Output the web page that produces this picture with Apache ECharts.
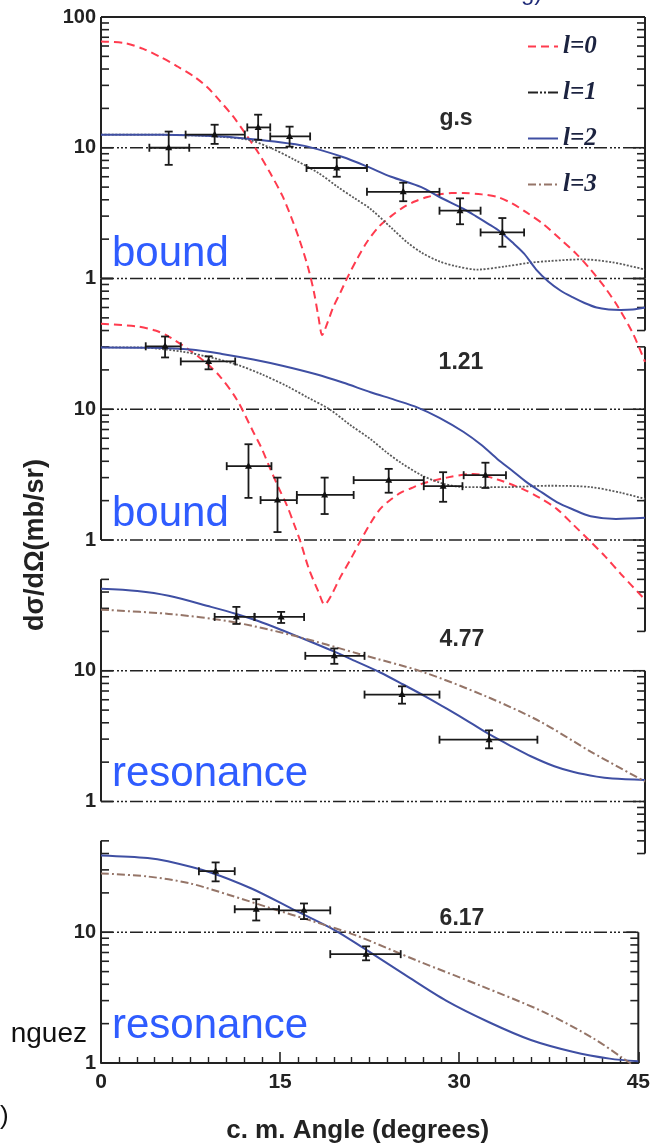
<!DOCTYPE html>
<html><head><meta charset="utf-8">
<script src="https://cdn.jsdelivr.net/npm/echarts@6/dist/echarts.min.js"></script>
<style>html,body{margin:0;padding:0;background:#fff}#c{width:653px;height:1148px}</style>
</head><body><div id="c"></div>
<script>
// ---------------- data ----------------
const angleTicks = [0, 15, 30, 45];
const yTickLabels = ['1', '10', '100'];
const tickMantissas = [1, 2, 3, 4, 5, 6, 7, 8, 9];
const seriesNames = ['l=0', 'l=1', 'l=2', 'l=3'];
const panelLabels = ['g.s', '1.21', '4.77', '6.17'];
const stateLabels = ['bound', 'bound', 'resonance', 'resonance'];

// panel 1: g.s  [angle, dsigma]
const gs_l0 = [[0,65],[2,63],[3.5,57],[4.9,49.5],[6.3,42],[7.7,35],[8.8,29],[9.8,23],[10.9,17.5],[11.9,13],[13,9.2],[14,6.4],[15,4.3],[15.7,3.0],[16.4,2.0],[17.1,1.24],[17.6,0.8],[18.0,0.5],[18.3,0.37],[18.7,0.45],[19.2,0.6],[19.8,0.78],[20.3,0.98],[21.2,1.42],[22,1.9],[23,2.5],[24,3.0],[25,3.5],[26,3.9],[27,4.2],[28,4.4],[29,4.5],[30,4.5],[31.5,4.4],[32.8,4.2],[34,3.75],[35.2,3.2],[36.6,2.6],[38,2.0],[39.3,1.55],[40.5,1.17],[41.7,0.85],[42.8,0.6],[44,0.38],[45,0.23]];
const gs_l1 = [[0,12.6],[4,12.6],[8,12.4],[10,12.1],[12.2,11.5],[14,10],[16,8.1],[18,6.4],[19.6,5.0],[21,4.1],[22.3,3.4],[24.1,2.4],[25.3,1.9],[26.5,1.58],[28,1.35],[29.4,1.24],[31.1,1.17],[33.5,1.24],[35.5,1.32],[37.1,1.36],[39.8,1.4],[42.3,1.33],[45,1.17]];
const gs_l2 = [[0,12.6],[5,12.6],[10,12.2],[13,11.5],[15.5,10.8],[17.1,10.2],[20,8.5],[22,7.2],[24,6.0],[26.5,5.0],[28,4.2],[30,3.4],[31,3.0],[32,2.63],[33,2.29],[34,1.9],[35,1.55],[36,1.17],[37,0.95],[38,0.81],[39,0.72],[40,0.65],[41,0.6],[42,0.58],[43,0.575],[44,0.58],[45,0.6]];
// [angle, value, angleLow, angleHigh, valueLow, valueHigh]
const gs_exp = [[5.6,10,4.0,7.3,7.4,13.3],[9.4,12.6,7.0,11.9,10.7,15],[13.0,14.3,12.1,14.0,11.5,17.9],[15.6,12.2,14.0,17.3,10.2,14.5],[19.5,7.0,17.0,22.0,6.0,8.4],[25.0,4.6,22.0,28.0,3.9,5.4],[29.7,3.3,28.0,31.4,2.6,4.1],[33.2,2.25,31.4,35.0,1.75,2.9]];

// panel 2: 1.21
const e121_l0 = [[0,45],[3,43],[4.5,40],[5.6,36],[7.4,28],[8.6,23],[9.8,18],[11.2,12],[12.6,6.7],[13.3,5],[14,3.5],[14.7,2.5],[15.4,1.82],[16,1.3],[16.5,0.97],[17.2,0.6],[18,0.4],[18.5,0.32],[19,0.37],[19.8,0.52],[20.6,0.7],[21.5,1.0],[22.3,1.35],[23.1,1.73],[24,2.05],[24.8,2.3],[25.7,2.5],[26.6,2.7],[28.6,3.0],[30.8,3.2],[32.8,2.9],[34.9,2.45],[36.3,2.1],[37.7,1.73],[39.1,1.3],[40.5,0.97],[41.7,0.75],[43,0.55],[45,0.35]];
const e121_l1 = [[0,29.7],[3,29.7],[6.6,27.7],[9,25],[11.2,22],[13.3,18.5],[15.4,15],[17.1,12.3],[18.9,10],[20.6,7.6],[22.3,5.9],[23.6,4.7],[24.8,3.9],[26.6,3.1],[28.3,2.7],[30,2.54],[33.5,2.54],[37.1,2.6],[40.5,2.54],[43,2.3],[45,2.06]];
const e121_l2 = [[0,29.7],[4,29.5],[7.4,28.6],[10,26.5],[12.6,24],[15,21.5],[17.8,18.5],[20,16],[22.3,13.5],[24.3,11.8],[26.2,10.3],[28,8.6],[30,6.7],[31.5,5.3],[32.8,4.15],[34,3.4],[35.2,2.77],[36.5,2.3],[37.7,1.95],[39,1.72],[40.5,1.52],[42.6,1.45],[45,1.48]];
const e121_exp = [[5.3,30.3,3.7,6.6,24.9,36],[8.9,23.2,6.6,11.1,20.2,25.4],[12.2,3.67,10.4,14.1,2.1,5.4],[14.6,2.02,13.2,16.2,1.15,3.0],[18.5,2.21,16.2,20.9,1.58,3.0],[23.8,2.87,20.9,26.7,2.3,3.5],[28.3,2.58,26.7,29.9,1.96,3.3],[31.8,3.13,30.0,33.5,2.5,3.9]];

// panel 3: 4.77
const e477_l2 = [[0,42.3],[3,40.7],[5.6,37.4],[9.1,30.8],[11.2,27.2],[13,24.0],[15,20.4],[17,17.2],[19.3,14.0],[21,11.9],[23.1,9.7],[25,7.85],[27,6.24],[28.6,5.13],[30.5,4.03],[32.1,3.27],[34,2.63],[35.6,2.21],[37.5,1.86],[39.1,1.68],[41,1.55],[42.3,1.5],[45,1.46]];
const e477_l3 = [[0,29.3],[5.6,27.2],[10.8,23.7],[16.0,18.5],[21.3,13.5],[26.6,9.8],[31.8,6.4],[36.3,4.1],[40.5,2.41],[45,1.42]];
const e477_exp = [[11.2,25.8,9.4,12.7,22.8,30.8],[14.9,25.8,12.7,16.8,23.2,28.2],[19.3,13.0,16.9,21.8,11.3,14.8],[24.9,6.57,21.8,28.0,5.6,7.6],[32.1,2.97,28.0,36.1,2.55,3.5]];

// panel 4: 6.17
const e617_l2 = [[0,38.7],[3.9,37],[5.6,34.9],[9.1,28.8],[12.6,21.6],[16,15.1],[19.6,10.35],[22,7.55],[25.5,4.7],[28.9,3.0],[32.5,2.05],[36,1.5],[39.5,1.22],[42.6,1.08],[45,1.03]];
const e617_l3 = [[0,28.2],[3.9,26.7],[7.4,23.7],[10.8,19.2],[14.3,15.2],[17.8,12.1],[21.3,9.5],[26.6,6.0],[31.8,3.9],[37.1,2.45],[41.2,1.55],[43.7,1.09],[45,0.9]];
const e617_exp = [[9.6,29.3,8.2,11.2,24.5,34.2],[13.0,15.0,11.2,14.9,12.3,17.9],[17.0,14.7,14.9,19.2,12.6,16.6],[22.2,6.8,19.2,25.1,6.1,7.8]];

// ---------------- layout & styles ----------------
const TOP0 = 17, PANEL_H = 261.5;
const INK = '#222';
const curveStyles = {
  'l=0': {color: '#ff3b4e', width: 2, type: [8, 5]},
  'l=1': {color: '#5a5a5a', width: 1.8, type: [2, 1.6]},
  'l=2': {color: '#3f4fa3', width: 2, type: 'solid'},
  'l=3': {color: '#957568', width: 2, type: [8, 3, 2, 3]}
};
const DASHDOT = [13, 3, 2, 2, 2, 2, 2, 3];

const panels = [
  {curves: {'l=0': gs_l0, 'l=1': gs_l1, 'l=2': gs_l2}, exp: gs_exp, clip: false,
   frame: [[0,100,1],[1,100,1],[2,10,1],[2,1,1],[3,100,1]]},
  {curves: {'l=0': e121_l0, 'l=1': e121_l1, 'l=2': e121_l2}, exp: e121_exp, clip: false,
   frame: [[0,100,1],[1,100,40],[1,30,0.2],[2,10,1],[2,1,1]]},
  {curves: {'l=2': e477_l2, 'l=3': e477_l3}, exp: e477_exp, clip: true,
   frame: [[0,50,1],[1,10,0.4],[2,10,1],[2,1,1]]},
  {curves: {'l=2': e617_l2, 'l=3': e617_l3}, exp: e617_exp, clip: true,
   frame: [[0,50,1],[1,10,1],[2,10,1]]}
];

function renderFrame(params, api) {
  const kind = api.value(0), a = api.value(1), b = api.value(2);
  const ch = [];
  if (kind === 0 || kind === 1) {
    const xv = kind === 0 ? 0 : 45, dir = kind === 0 ? 1 : -1;
    const p1 = api.coord([xv, a]), p2 = api.coord([xv, b]);
    ch.push({type: 'line', shape: {x1: p1[0], y1: p1[1], x2: p2[0], y2: p2[1]}, style: {stroke: INK, lineWidth: 2}});
    for (const e of [-1, 0, 1, 2]) {
      for (const m of tickMantissas) {
        const v = m * Math.pow(10, e);
        if (v <= a * 1.0001 && v >= b * 0.9999) {
          const p = api.coord([xv, v]);
          const len = m === 1 ? 12 : 8;
          ch.push({type: 'line', shape: {x1: p[0], y1: p[1], x2: p[0] + dir * len, y2: p[1]}, style: {stroke: INK, lineWidth: 1.6}});
        }
      }
    }
  } else {
    const p1 = api.coord([0, a]), p2 = api.coord([45, a]);
    const st = kind === 2 ? {stroke: INK, lineWidth: 1.7, lineDash: DASHDOT} : {stroke: INK, lineWidth: 2};
    ch.push({type: 'line', shape: {x1: p1[0], y1: p1[1], x2: p2[0], y2: p2[1]}, style: st});
  }
  return {type: 'group', children: ch};
}

function renderErr(params, api) {
  const x = api.value(0), y = api.value(1);
  const c = api.coord([x, y]);
  const l = api.coord([api.value(2), y]), r = api.coord([api.value(3), y]);
  const b = api.coord([x, api.value(4)]), t = api.coord([x, api.value(5)]);
  const cap = 4;
  const st = {stroke: '#1a1a1a', lineWidth: 1.8};
  return {type: 'group', children: [
    {type: 'line', shape: {x1: l[0], y1: c[1], x2: r[0], y2: c[1]}, style: st},
    {type: 'line', shape: {x1: l[0], y1: c[1] - cap, x2: l[0], y2: c[1] + cap}, style: st},
    {type: 'line', shape: {x1: r[0], y1: c[1] - cap, x2: r[0], y2: c[1] + cap}, style: st},
    {type: 'line', shape: {x1: c[0], y1: b[1], x2: c[0], y2: t[1]}, style: st},
    {type: 'line', shape: {x1: c[0] - cap, y1: b[1], x2: c[0] + cap, y2: b[1]}, style: st},
    {type: 'line', shape: {x1: c[0] - cap, y1: t[1], x2: c[0] + cap, y2: t[1]}, style: st},
    {type: 'polygon', shape: {points: [[c[0], c[1] - 4], [c[0] - 3.5, c[1] + 2.5], [c[0] + 3.5, c[1] + 2.5]]}, style: {fill: '#111'}}
  ]};
}

const boldSans = {fontFamily: 'Liberation Sans', fontWeight: 'bold', color: INK};
const grid = [], xAxis = [], yAxis = [], series = [];
panels.forEach((p, i) => {
  grid.push({left: 101, right: 8, top: TOP0 + PANEL_H * i, height: PANEL_H});
  const last = i === panels.length - 1;
  xAxis.push({
    type: 'value', gridIndex: i, min: angleTicks[0], max: angleTicks[angleTicks.length - 1], interval: 15,
    show: true,
    axisLine: {show: last, lineStyle: {color: INK, width: 2}},
    axisTick: {show: last, inside: true, length: 11, lineStyle: {color: INK, width: 1.6}},
    minorTick: {show: last, splitNumber: 10, length: 6, lineStyle: {color: INK, width: 1.4}},
    splitLine: {show: false},
    axisLabel: Object.assign({show: last, margin: 9, fontSize: 21,
      formatter: v => angleTicks.indexOf(v) >= 0 ? String(v) : ''}, boldSans),
    name: last ? 'c. m. Angle (degrees)' : '', nameLocation: 'middle', nameGap: 55,
    nameTextStyle: Object.assign({fontSize: 26, padding: [0, 24, 0, 0]}, boldSans)
  });
  yAxis.push({
    type: 'log', logBase: 10, gridIndex: i, min: 1, max: 100,
    axisLine: {show: false}, axisTick: {show: false}, splitLine: {show: false},
    axisLabel: Object.assign({margin: 5, fontSize: 20, showMinLabel: true, showMaxLabel: true,
      formatter: v => { const k = Math.round(Math.log10(v)); return (i > 0 && k === 2) ? '' : yTickLabels[k]; }}, boldSans)
  });
  series.push({type: 'custom', name: 'frame' + i, xAxisIndex: i, yAxisIndex: i, clip: false, silent: true, z: 2,
    renderItem: renderFrame, data: p.frame, animation: false});
  Object.keys(p.curves).forEach(nm => {
    const s = curveStyles[nm];
    series.push({type: 'line', name: nm, xAxisIndex: i, yAxisIndex: i, data: p.curves[nm], symbol: 'none',
      smooth: 0.3, clip: p.clip, silent: true, z: 3, animation: false,
      lineStyle: {color: s.color, width: s.width, type: s.type}, itemStyle: {color: s.color}});
  });
  series.push({type: 'custom', name: 'exp' + i, xAxisIndex: i, yAxisIndex: i, clip: false, silent: true, z: 5,
    renderItem: renderErr, data: p.exp, animation: false});
});

const legendFont = {fontFamily: 'Liberation Serif', fontStyle: 'italic', fontWeight: 'bold', fontSize: 25, color: '#1c2340'};
const noSymbol = {color: 'rgba(0,0,0,0)', borderColor: 'rgba(0,0,0,0)', borderWidth: 0, opacity: 0};
const legend = {
  orient: 'vertical', left: 522, top: 29, itemWidth: 30, itemHeight: 12, itemGap: 21,
  textStyle: legendFont, selectedMode: false, itemStyle: noSymbol,
  data: [
    {name: seriesNames[0], itemStyle: noSymbol},
    {name: seriesNames[1], itemStyle: noSymbol, lineStyle: {color: '#222', type: [10, 2, 2, 2, 2, 2], width: 2}},
    {name: seriesNames[2], itemStyle: noSymbol},
    {name: seriesNames[3], itemStyle: noSymbol, lineStyle: {color: '#957568', type: [8, 3, 2, 3], width: 2}}
  ]
};

function txt(text, x, y, font, fill, align, extra, valign) {
  return Object.assign({type: 'text', x: x, y: y, silent: true, z: 10,
    style: Object.assign({text: text, fill: fill, align: align || 'center', verticalAlign: valign || 'middle',
      textAlign: align || 'center', textVerticalAlign: valign || 'middle'}, font)}, extra || {});
}
const numFont = {fontFamily: 'Liberation Sans', fontWeight: 'bold', fontSize: 23};
const blueFont = {fontFamily: 'Liberation Sans', fontSize: 42};
const graphic = [
  txt(panelLabels[0], 456, 119, numFont, '#2a2a2a'),
  txt(panelLabels[1], 461, 363, numFont, '#2a2a2a'),
  txt(panelLabels[2], 462, 640, numFont, '#2a2a2a'),
  txt(panelLabels[3], 462, 919, numFont, '#2a2a2a'),
  txt(stateLabels[0], 112, 254, blueFont, '#2f5cff', 'left'),
  txt(stateLabels[1], 112, 514, blueFont, '#2f5cff', 'left'),
  txt(stateLabels[2], 112, 774, blueFont, '#2f5cff', 'left'),
  txt(stateLabels[3], 112, 1026, blueFont, '#2f5cff', 'left'),
  txt('dσ/dΩ(mb/sr)', 36, 545, {fontFamily: 'Liberation Sans', fontWeight: 'bold', fontSize: 27}, INK, 'center', {rotation: Math.PI / 2}),
  txt('nguez', 87, 1034, {fontFamily: 'Liberation Sans', fontSize: 28}, '#111', 'right'),
  txt(')', 0, 1117, {fontFamily: 'Liberation Sans', fontSize: 26}, '#111', 'left'),
  txt('g)', 521, 5, {fontFamily: 'Liberation Sans', fontSize: 24}, '#1e2a78', 'left', null, 'bottom')
];

const chart = echarts.init(document.getElementById('c'), null, {renderer: 'canvas'});
chart.setOption({animation: false, backgroundColor: '#fff', grid, xAxis, yAxis, series, legend, graphic});
</script></body></html>
